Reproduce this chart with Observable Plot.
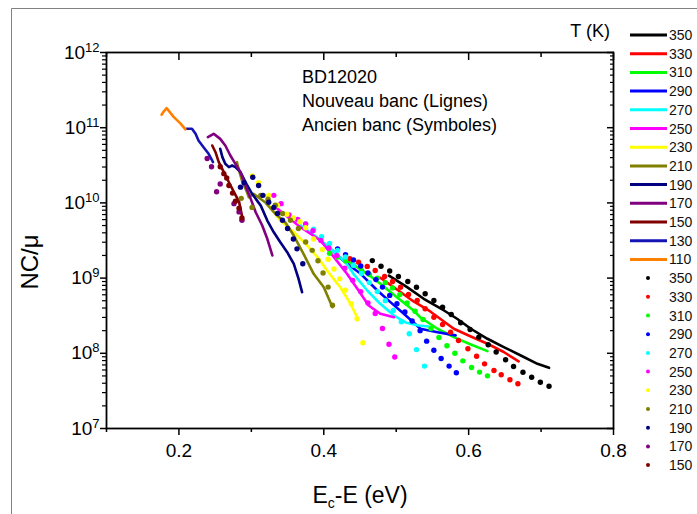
<!DOCTYPE html>
<html><head><meta charset="utf-8">
<script src="https://cdn.jsdelivr.net/npm/d3@7"></script>
<script src="https://cdn.jsdelivr.net/npm/@observablehq/plot@0.6"></script>
<style>
body{margin:0;background:#fff;font-family:"Liberation Sans",Arial,sans-serif;}
#wrap{position:relative;width:697px;height:514px;overflow:hidden;background:#fff;}
#chart{position:absolute;left:0;top:0;}
#over{position:absolute;left:0;top:0;}
</style></head><body>
<div id="wrap"><div id="chart"></div><svg id="over" width="697" height="514"></svg></div>
<script>
// ---- data ----
const temps = [350,330,310,290,270,250,230,210,190,170,150,130,110];
const colors = ["#000000","#ff0000","#00ff00","#0000ff","#00ffff","#ff00ff","#ffff00","#808000","#000080","#800080","#800000","#1414b4","#ff8000"];
const lineTemps = [350,330,310,290,270,250,230,210,190,170,150,130,110];
const dotTemps = [350,330,310,290,270,250,230,210,190,170,150];
const xTicks = [0.2,0.4,0.6,0.8];
const xMinorTicks = [0.1,0.3,0.5,0.7];
const yTicks = [1e7,1e8,1e9,1e10,1e11,1e12];

// Nouveau banc (lines): [Ec-E (eV), NC/mu]
const line110 = [[0.176,1.49e11],[0.179,1.64e11],[0.183,1.82e11],[0.193,1.38e11],[0.202,1.14e11],[0.209,9.5e10]];
const line130 = [[0.2105,9.7e10],[0.218,9.7e10],[0.223,8.3e10],[0.227,6.76e10],[0.234,5.5e10],[0.241,4.5e10],[0.246,3.66e10],[0.247,3.48e10]];
const line150 = [[0.246,5.8e10],[0.2505,4.72e10],[0.255,3.48e10],[0.262,2.56e10],[0.269,1.88e10],[0.276,1.39e10],[0.283,1.04e10],[0.287,6.8e9]];
const line170 = [[0.240,7.48e10],[0.248,8.3e10],[0.257,7.1e10],[0.264,5.8e10],[0.271,4.27e10],[0.278,3.31e10],[0.285,2.56e10],[0.292,1.70e10],[0.299,1.14e10],[0.306,7.5e9],[0.315,5.0e9],[0.322,3.33e9],[0.329,2.0e9]];
const line190 = [[0.257,5.24e10],[0.260,4.06e10],[0.264,3.31e10],[0.269,2.99e10],[0.2735,3.14e10],[0.278,2.99e10],[0.285,2.56e10],[0.292,1.88e10],[0.301,1.32e10],[0.313,9.2e9],[0.322,5.83e9],[0.331,4.07e9],[0.340,3.0e9],[0.3495,2.21e9],[0.3586,1.55e9],[0.365,9.9e8],[0.370,6.5e8]];
const line210 = [[0.280,3.48e10],[0.283,2.70e10],[0.287,1.99e10],[0.294,1.39e10],[0.2965,1.19e10],[0.303,1.32e10],[0.3195,1.01e10],[0.333,7.2e9],[0.347,5.48e9],[0.3586,3.68e9],[0.372,2.1e9],[0.386,1.14e9],[0.400,7.57e8],[0.412,4.1e8]];
const line230 = [[0.324,9.2e9],[0.340,5.83e9],[0.3586,4.07e9],[0.377,2.72e9],[0.393,1.82e9],[0.4065,1.19e9],[0.423,7.5e8],[0.437,4.55e8],[0.446,3.02e8]];
const line250 = [[0.336,8.36e9],[0.368,4.75e9],[0.3955,3.16e9],[0.414,1.90e9],[0.432,1.14e9],[0.448,6.84e8],[0.462,4.33e8],[0.478,3.35e8],[0.497,3.02e8]];
const line270 = [[0.368,5.01e9],[0.389,3.57e9],[0.409,2.48e9],[0.430,1.62e9],[0.441,1.14e9],[0.460,6.84e8],[0.478,4.55e8],[0.497,3.18e8],[0.513,2.57e8],[0.531,2.34e8],[0.545,2.27e8]];
const line290 = [[0.3955,3.16e9],[0.412,2.33e9],[0.430,1.61e9],[0.451,1.14e9],[0.474,6.84e8],[0.492,4.79e8],[0.5105,3.35e8],[0.5335,2.12e8],[0.557,1.91e8],[0.582,1.73e8]];
const line310 = [[0.423,1.82e9],[0.439,1.55e9],[0.460,1.14e9],[0.478,8.4e8],[0.501,5.57e8],[0.524,3.71e8],[0.5335,2.99e8],[0.557,2.12e8],[0.5795,1.64e8],[0.603,1.31e8],[0.626,1.07e8]];
const line330 = [[0.478,1.01e9],[0.501,7.05e8],[0.524,4.89e8],[0.547,3.6e8],[0.5795,2.12e8],[0.603,1.67e8],[0.626,1.34e8],[0.6485,1.04e8],[0.669,7.8e7]];
const line350 = [[0.490,1.08e9],[0.515,7.57e8],[0.538,5.31e8],[0.566,3.71e8],[0.584,2.88e8],[0.603,2.12e8],[0.626,1.56e8],[0.6485,1.21e8],[0.672,9.35e7],[0.695,7.24e7],[0.711,6.41e7]];

// Ancien banc (symbols)
const dots350 = [[0.467,1.71e9],[0.479,1.44e9],[0.491,1.24e9],[0.503,1.05e9],[0.516,9.0e8],[0.528,7.57e8],[0.540,6.18e8],[0.552,5.04e8],[0.564,4.1e8],[0.576,3.28e8],[0.589,2.55e8],[0.602,2.07e8],[0.614,1.64e8],[0.627,1.30e8],[0.638,1.04e8],[0.651,8.2e7],[0.662,6.67e7],[0.675,5.61e7],[0.687,4.81e7],[0.699,4.13e7],[0.711,3.65e7]];
const dots330 = [[0.436,1.81e9],[0.448,1.63e9],[0.460,1.43e9],[0.471,1.26e9],[0.484,1.05e9],[0.495,9.0e8],[0.506,7.57e8],[0.517,6.05e8],[0.529,5.04e8],[0.540,3.91e8],[0.552,3.02e8],[0.564,2.42e8],[0.575,1.91e8],[0.586,1.48e8],[0.599,1.15e8],[0.611,9.14e7],[0.622,7.24e7],[0.635,5.9e7],[0.645,5.18e7],[0.657,4.45e7],[0.668,3.93e7]];
const dots310 = [[0.408,2.14e9],[0.419,1.91e9],[0.430,1.70e9],[0.441,1.48e9],[0.452,1.26e9],[0.463,1.12e9],[0.474,1.0e9],[0.485,8.7e8],[0.495,7.41e8],[0.505,6.03e8],[0.515,4.68e8],[0.526,3.63e8],[0.537,2.82e8],[0.548,2.14e8],[0.559,1.62e8],[0.570,1.26e8],[0.581,1.0e8],[0.592,7.94e7],[0.604,6.46e7],[0.615,5.62e7],[0.626,5.01e7]];
const dots290 = [[0.419,2.45e9],[0.430,2.04e9],[0.441,1.74e9],[0.451,1.45e9],[0.461,1.17e9],[0.472,9.55e8],[0.481,7.59e8],[0.491,5.89e8],[0.501,4.57e8],[0.512,3.55e8],[0.522,2.69e8],[0.533,2.0e8],[0.542,1.45e8],[0.552,1.10e8],[0.562,8.51e7],[0.573,6.76e7],[0.583,5.5e7]];
const dots270 = [[0.375,5.25e9],[0.386,4.47e9],[0.397,3.55e9],[0.408,2.88e9],[0.419,2.34e9],[0.430,1.91e9],[0.441,1.48e9],[0.452,1.15e9],[0.463,8.71e8],[0.474,6.61e8],[0.485,5.01e8],[0.496,3.72e8],[0.507,2.63e8],[0.518,1.82e8],[0.528,1.12e8],[0.539,6.76e7]];
const dots250 = [[0.331,1.26e10],[0.341,9.77e9],[0.352,6.92e9],[0.364,6.03e9],[0.375,5.25e9],[0.385,4.27e9],[0.396,3.16e9],[0.407,2.51e9],[0.418,2.0e9],[0.429,1.35e9],[0.440,9.33e8],[0.451,6.61e8],[0.461,4.68e8],[0.471,3.39e8],[0.481,2.14e8],[0.490,1.32e8],[0.498,8.91e7]];
const dots230 = [[0.301,2.29e10],[0.310,1.86e10],[0.324,1.26e10],[0.336,9.33e9],[0.349,7.08e9],[0.358,6.31e9],[0.367,5.62e9],[0.375,4.68e9],[0.386,3.31e9],[0.398,2.4e9],[0.406,1.78e9],[0.414,1.32e9],[0.422,9.77e8],[0.430,6.92e8],[0.438,4.57e8],[0.446,2.88e8],[0.454,1.38e8]];
const dots210 = [[0.286,1.15e10],[0.301,8.71e9],[0.313,1.26e10],[0.323,1.12e10],[0.333,9.33e9],[0.343,7.24e9],[0.354,5.89e9],[0.365,4.57e9],[0.375,3.02e9],[0.384,2.34e9],[0.392,1.70e9],[0.399,1.17e9],[0.406,7.59e8],[0.412,4.37e8]];
const dots190 = [[0.285,1.62e10],[0.290,1.86e10],[0.302,2.19e10],[0.310,1.70e10],[0.316,1.26e10],[0.324,1.02e10],[0.331,8.71e9],[0.336,7.24e9],[0.343,5.89e9],[0.350,4.57e9],[0.358,3.31e9],[0.363,2.45e9],[0.371,1.55e9]];
const dots170 = [[0.239,3.89e10],[0.245,3.02e10],[0.252,1.41e10],[0.257,1.78e10],[0.276,9.77e9],[0.283,7.59e9],[0.287,5.89e9]];
const dots150 = [[0.257,3.02e10],[0.262,2.45e10],[0.266,2.14e10],[0.269,1.70e10],[0.274,1.35e10],[0.278,1.05e10],[0.283,8.51e9],[0.287,6.31e9]];

const annotation = ["BD12020","Nouveau banc (Lignes)","Ancien banc (Symboles)"];
const legendTitle = "T (K)";

// ---- tables ----
const lineSets = {350:line350,330:line330,310:line310,290:line290,270:line270,250:line250,230:line230,210:line210,190:line190,170:line170,150:line150,130:line130,110:line110};
const dotSets = {350:dots350,330:dots330,310:dots310,290:dots290,270:dots270,250:dots250,230:dots230,210:dots210,190:dots190,170:dots170,150:dots150};
const lineRows = lineTemps.flatMap(T => lineSets[T].map(([E,v]) => ({T:String(T),E,v})));
const dotRows = dotTemps.flatMap(T => dotSets[T].map(([E,v]) => ({T:String(T),E,v})));
const yMinor = [];
for (let k = 7; k < 12; k++) for (let m = 2; m <= 9; m++) yMinor.push(m * 10 ** k);

const blank = () => "";
const plot = Plot.plot({
  width: 697, height: 514,
  marginLeft: 106, marginRight: 84, marginTop: 52, marginBottom: 86,
  style: {fontFamily: '"Liberation Sans", Arial, sans-serif', fontSize: "19px", color: "#000", background: "transparent", overflow: "visible"},
  x: {domain: [0.1, 0.8]},
  y: {type: "log", domain: [1e7, 1e12]},
  color: {domain: temps.map(String), range: colors},
  marks: [
    Plot.line(lineRows, {x: "E", y: "v", stroke: "T", z: "T", strokeWidth: 2.6, curve: "linear"}),
    Plot.dot(dotRows, {x: "E", y: "v", fill: "T", r: 2.7}),
    Plot.frame({stroke: "#000", strokeWidth: 1.8}),
    Plot.axisX({ticks: xTicks, tickSize: 7, tickPadding: 8, tickFormat: d3.format(".1f"), label: null, strokeWidth: 1.5}),
    Plot.axisX({ticks: xMinorTicks, tickSize: 4, tickFormat: blank, label: null, strokeWidth: 1.5}),
    Plot.axisX({anchor: "top", ticks: xTicks, tickSize: 7, dy: 7, tickFormat: blank, label: null, strokeWidth: 1.5}),
    Plot.axisX({anchor: "top", ticks: xMinorTicks, tickSize: 4, dy: 4, tickFormat: blank, label: null, strokeWidth: 1.5}),
    Plot.axisY({ticks: yTicks, tickSize: 6, tickPadding: 1, tickFormat: d => String(Math.round(Math.log10(d))), label: null, strokeWidth: 1.5}),
    Plot.axisY({ticks: yMinor, tickSize: 4, tickFormat: blank, label: null, strokeWidth: 1.2}),
    Plot.axisY({anchor: "right", ticks: yTicks, tickSize: 7, dx: -7, tickFormat: blank, label: null, strokeWidth: 1.5}),
    Plot.axisY({anchor: "right", ticks: yMinor, tickSize: 4, dx: -4, tickFormat: blank, label: null, strokeWidth: 1.2})
  ]
});
document.getElementById("chart").appendChild(plot);

// superscript exponents on the log axis labels
d3.select(plot).selectAll('g[aria-label="y-axis tick label"] text').each(function() {
  const exp = this.textContent;
  if (!exp) return;
  const t = d3.select(this);
  t.text(null);
  t.append("tspan").text("10");
  t.append("tspan").attr("dy", -7).attr("font-size", 13).text(exp);
});

// ---- overlay: border, titles, annotation, legend ----
const ov = d3.select("#over").style("font-family", '"Liberation Sans", Arial, sans-serif');
ov.append("path").attr("d", "M11.5,514V8.5H697").attr("fill", "none").attr("stroke", "#808080").attr("stroke-width", 1);

const xl = ov.append("text").attr("x", 360).attr("y", 503).attr("text-anchor", "middle").attr("font-size", 23).attr("fill", "#000");
xl.append("tspan").text("E");
xl.append("tspan").attr("dy", 5).attr("font-size", 14).text("c");
xl.append("tspan").attr("dy", -5).text("-E (eV)");

ov.append("text").attr("transform", "translate(38,262) rotate(-90)").attr("text-anchor", "middle").attr("font-size", 24).attr("fill", "#000").text("NC/μ");

annotation.forEach((s, i) => {
  ov.append("text").attr("x", 302).attr("y", 83 + i * 24).attr("font-size", 18).attr("fill", "#000").text(s);
});

ov.append("text").attr("x", 610).attr("y", 37).attr("text-anchor", "end").attr("font-size", 18).attr("fill", "#000").text(legendTitle);
const color = d3.scaleOrdinal(temps.map(String), colors);
const rowY = i => 35 + i * 18.7;
lineTemps.forEach((T, i) => {
  const y = rowY(i);
  ov.append("line").attr("x1", 630).attr("x2", 667).attr("y1", y).attr("y2", y).attr("stroke", color(String(T))).attr("stroke-width", 3);
  ov.append("text").attr("x", 669).attr("y", y + 5).attr("font-size", 14).attr("fill", "#111").text(T);
});
dotTemps.forEach((T, j) => {
  const y = rowY(lineTemps.length + j);
  ov.append("circle").attr("cx", 648).attr("cy", y).attr("r", 2).attr("fill", color(String(T)));
  ov.append("text").attr("x", 669).attr("y", y + 5).attr("font-size", 14).attr("fill", "#111").text(T);
});
</script>
</body></html>
